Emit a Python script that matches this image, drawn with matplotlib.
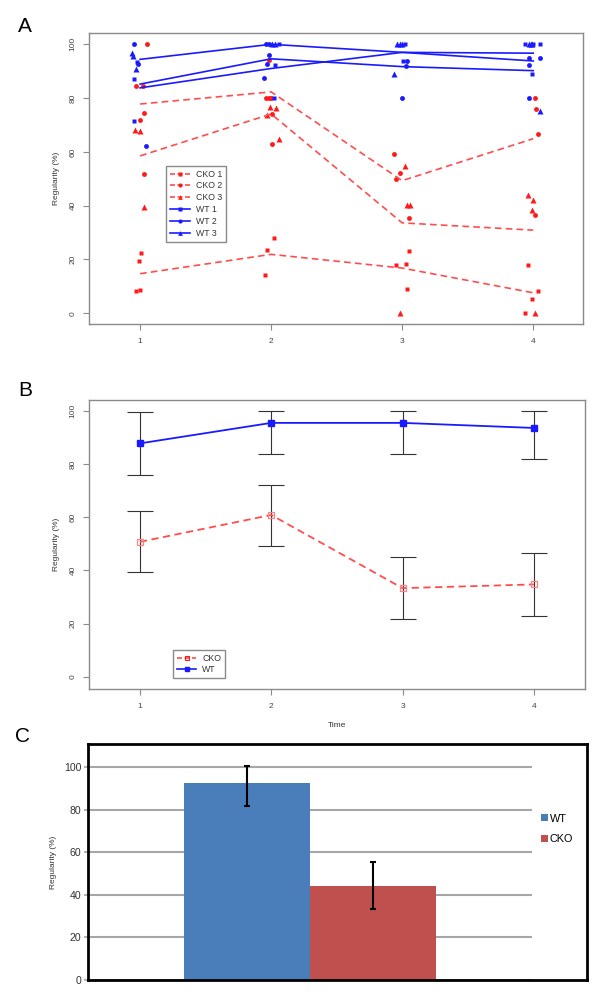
import matplotlib
matplotlib.use("Agg")
import matplotlib.pyplot as plt
from matplotlib.lines import Line2D
import numpy as np

plt.rcParams['font.family'] = ['Liberation Sans', 'DejaVu Sans']

# ---------------- Panel A data (individual points, jittered x) ----------------
cko1_x = [0.97, 1.00, 0.99, 1.01, 2.02, 1.97, 1.95, 3.05, 3.03, 2.95, 3.04, 3.96, 4.04, 3.99, 3.94]
cko1_y = [8.2, 8.8, 19.6, 22.5, 28.1, 23.4, 14.3, 23.0, 18.3, 17.8, 9.0, 17.8, 8.3, 5.3, 0.2]
cko2_x = [1.05, 0.97, 1.02, 1.00, 1.03, 1.03, 1.98, 1.96, 1.98, 2.00, 2.01, 2.01,
          2.94, 2.98, 2.95, 3.05, 4.01, 4.02, 4.04, 4.01]
cko2_y = [100, 84.4, 84.4, 71.7, 74.5, 51.9, 94.3, 80, 80, 80, 74.1, 63.1,
          59.2, 52.2, 50.0, 35.4, 80, 76.1, 66.6, 36.4]
cko3_x = [0.96, 1.00, 1.03, 1.99, 2.04, 1.97, 2.06, 3.02, 3.04, 3.06, 2.98, 3.96, 4.00, 3.99, 4.01]
cko3_y = [68.2, 67.9, 39.4, 76.7, 76.2, 73.8, 64.8, 54.6, 40.1, 40.1, 0.2, 44.1, 42.2, 38.3, 0.2]
wt1_x = [0.95, 0.98, 0.956, 2.06, 2.03, 2.025, 3.02, 3.01, 3.94, 4.00, 4.05, 3.99]
wt1_y = [71.5, 93.5, 87.0, 100, 92.3, 80, 100, 93.9, 100, 100, 100, 88.8]
wt2_x = [0.956, 0.982, 1.047, 1.945, 1.966, 1.983, 1.96, 1.98, 3.04, 3.03, 3.00, 3.97, 4.05, 3.97, 3.97]
wt2_y = [100, 92.8, 62.3, 87.5, 92.5, 96.1, 100, 100, 93.9, 92.0, 80, 95.0, 95.0, 92.2, 79.9]
wt3_x = [0.936, 0.944, 0.971, 2.01, 2.03, 2.96, 2.98, 3.00, 2.94, 3.97, 3.98, 3.99, 4.05]
wt3_y = [96.6, 95.5, 91.0, 100, 100, 100, 100, 100, 88.8, 100, 100, 100, 75.1]

times = [1, 2, 3, 4]
cko1_mean = [14.7, 21.9, 16.8, 7.6]
cko2_mean = [77.8, 82.3, 49.3, 64.9]
cko3_mean = [58.5, 74.1, 33.6, 30.9]
wt1_mean = [83.8, 91.0, 97.0, 96.7]
wt2_mean = [85.2, 94.6, 91.7, 90.2]
wt3_mean = [94.4, 100.0, 97.0, 93.8]

# ---------------- Panel B data ----------------
wt_b_mean = [87.7, 95.4, 95.4, 93.5]
wt_b_low = [75.8, 83.7, 83.7, 81.8]
wt_b_high = [99.5, 100.0, 100.0, 100.0]
cko_b_mean = [50.7, 60.8, 33.3, 34.7]
cko_b_low = [39.2, 49.1, 21.7, 23.0]
cko_b_high = [62.4, 72.2, 45.0, 46.5]

# ---------------- Panel C data ----------------
c_groups = ["WT", "CKO"]
c_values = [92.5, 44.2]
c_low = [81.7, 33.4]
c_high = [100.5, 55.5]
c_colors = ["#4A7EBB", "#C0504D"]

W, H = 601, 1000
fig = plt.figure(figsize=(W / 100, H / 100), dpi=100)


def rect(l, t, r, b):
    return [l / W, 1 - b / H, (r - l) / W, (b - t) / H]


RED = "#FF1A1A"
DRED = "#FF4D4D"
BLUE = "#1A1AFF"
GRAY = "#8A8A8A"
TXT = "#444444"


def r_style(ax):
    for s in ax.spines.values():
        s.set_color(GRAY)
        s.set_linewidth(1.0)
    ax.tick_params(colors=GRAY, labelcolor=TXT, labelsize=6, length=4, width=0.8)
    ax.set_xticks([1, 2, 3, 4])
    ax.set_yticks([0, 20, 40, 60, 80, 100])
    for lab in ax.get_yticklabels():
        lab.set_rotation(90)
        lab.set_va('center')
    ax.tick_params(axis='x', pad=6)
    ax.tick_params(axis='y', pad=5)


# ---------------- Panel A ----------------
axA = fig.add_axes(rect(89, 33, 583, 324))
ms = 3.5
axA.plot(cko1_x, cko1_y, ls='none', marker='s', ms=ms, color=RED, mec='none')
axA.plot(cko2_x, cko2_y, ls='none', marker='o', ms=ms, color=RED, mec='none')
axA.plot(cko3_x, cko3_y, ls='none', marker='^', ms=ms + 0.4, color=RED, mec='none')
axA.plot(wt1_x, wt1_y, ls='none', marker='s', ms=ms, color=BLUE, mec='none')
axA.plot(wt2_x, wt2_y, ls='none', marker='o', ms=ms, color=BLUE, mec='none')
axA.plot(wt3_x, wt3_y, ls='none', marker='^', ms=ms + 0.4, color=BLUE, mec='none')
for m in (cko1_mean, cko2_mean, cko3_mean):
    axA.plot(times, m, ls=(0, (4, 2.5)), lw=1.2, color=DRED)
for m in (wt1_mean, wt2_mean, wt3_mean):
    axA.plot(times, m, ls='-', lw=1.2, color=BLUE)
axA.set_xlim(0.61, 4.38)
axA.set_ylim(-4.0, 104.2)
r_style(axA)
axA.set_ylabel("Regularity (%)", fontsize=6, color="#333333", labelpad=7)

handlesA = [
    Line2D([], [], color=DRED, ls=(0, (3, 1.5)), lw=1.2, marker='s', ms=3, mec='none', mfc=RED),
    Line2D([], [], color=DRED, ls=(0, (3, 1.5)), lw=1.2, marker='o', ms=3, mec='none', mfc=RED),
    Line2D([], [], color=DRED, ls=(0, (3, 1.5)), lw=1.2, marker='^', ms=3.4, mec='none', mfc=RED),
    Line2D([], [], color=BLUE, lw=1.2, marker='s', ms=3, mec='none'),
    Line2D([], [], color=BLUE, lw=1.2, marker='o', ms=3, mec='none'),
    Line2D([], [], color=BLUE, lw=1.2, marker='^', ms=3.4, mec='none'),
]
legA = axA.legend(handlesA, ["CKO 1", "CKO 2", "CKO 3", "WT 1", "WT 2", "WT 3"],
                  loc='upper left', bbox_to_anchor=(166.5 / W, 1 - 165.7 / H),
                  bbox_transform=fig.transFigure, borderaxespad=0, fontsize=6.3,
                  handlelength=2.2, labelspacing=0.32, handletextpad=0.7,
                  borderpad=0.45, fancybox=False, framealpha=1)
legA.get_frame().set_edgecolor(GRAY)
legA.get_frame().set_linewidth(1.0)
for t in legA.get_texts():
    t.set_color("#333333")

fig.text(18 / W, 1 - 26 / H, "A", fontsize=15, va='center', ha='left')

# ---------------- Panel B ----------------
axB = fig.add_axes(rect(89.3, 400, 585.4, 689))
wt_b_err = [np.subtract(wt_b_mean, wt_b_low), np.subtract(wt_b_high, wt_b_mean)]
cko_b_err = [np.subtract(cko_b_mean, cko_b_low), np.subtract(cko_b_high, cko_b_mean)]
axB.errorbar(times, wt_b_mean, yerr=wt_b_err, fmt='none', ecolor='#333333',
             elinewidth=0.8, capsize=9.3, capthick=0.8)
axB.errorbar(times, cko_b_mean, yerr=cko_b_err, fmt='none', ecolor='#333333',
             elinewidth=0.8, capsize=9.3, capthick=0.8)
lw_, = axB.plot(times, wt_b_mean, '-', color=BLUE, lw=1.3, marker='s', ms=5, mec=BLUE, mfc=BLUE)
lc_, = axB.plot(times, cko_b_mean, ls=(0, (4, 2.5)), color=DRED, lw=1.3, marker='s', ms=5,
                mfc='none', mec="#FF8080", mew=0.9)
axB.set_xlim(0.614, 4.393)
axB.set_ylim(-4.6, 104.0)
r_style(axB)
axB.set_ylabel("Regularity (%)", fontsize=6, color="#333333", labelpad=7)
axB.set_xlabel("Time", fontsize=6, color="#333333", labelpad=9)
hc = Line2D([], [], color=DRED, ls=(0, (3, 1.5)), lw=1.2, marker='s', ms=3.5, mfc='none', mec=RED, mew=0.8)
hw = Line2D([], [], color=BLUE, lw=1.2, marker='s', ms=3.5, mfc=BLUE, mec=BLUE)
legB = axB.legend([hc, hw], ["CKO", "WT"], loc='upper left',
                  bbox_to_anchor=(173 / W, 1 - 650 / H), bbox_transform=fig.transFigure,
                  borderaxespad=0, fontsize=6.3, handlelength=2.2, labelspacing=0.25,
                  handletextpad=0.7, borderpad=0.45, fancybox=False, framealpha=1)
legB.get_frame().set_edgecolor(GRAY)
legB.get_frame().set_linewidth(1.0)
for t in legB.get_texts():
    t.set_color("#333333")

fig.text(18 / W, 1 - 391 / H, "B", fontsize=15, va='center', ha='left')

# ---------------- Panel C ----------------
axC = fig.add_axes(rect(88.3, 744, 587, 980))
bw = 0.284
c_x = [-bw / 2, bw / 2]
c_err = [np.subtract(c_values, c_low), np.subtract(c_high, c_values)]
yt = [0, 20, 40, 60, 80, 100]
axC.hlines(yt, -0.5, 0.5, colors="#A6A6A6", lw=1.5, zorder=1)
bars = axC.bar(c_x, c_values, width=bw, color=c_colors, zorder=2)
axC.errorbar(c_x, c_values, yerr=c_err, fmt='none', ecolor='black', elinewidth=1.5,
             capsize=2.2, capthick=1.5, zorder=3)
axC.set_xlim(-0.5, 0.625)
axC.set_ylim(0, 111)
axC.set_xticks([])
axC.set_yticks(yt)
axC.tick_params(axis='y', labelsize=7.6, labelcolor="#333333", color="#A6A6A6",
                length=3, width=1.2, pad=2)
for s in axC.spines.values():
    s.set_color('black')
    s.set_linewidth(2)
axC.set_ylabel("Regularity (%)", fontsize=6, color="#333333", labelpad=5)
legC = axC.legend(bars, c_groups, loc='center left', bbox_to_anchor=(541 / W, 1 - 829 / H),
                  bbox_transform=fig.transFigure, frameon=False, fontsize=7.8,
                  handlelength=0.6, handleheight=0.6, handletextpad=0.2, labelspacing=1.0,
                  borderaxespad=0, borderpad=0)

fig.text(15 / W, 1 - 736 / H, "C", fontsize=15, va='center', ha='left')

fig.savefig("out.png", dpi=100)
